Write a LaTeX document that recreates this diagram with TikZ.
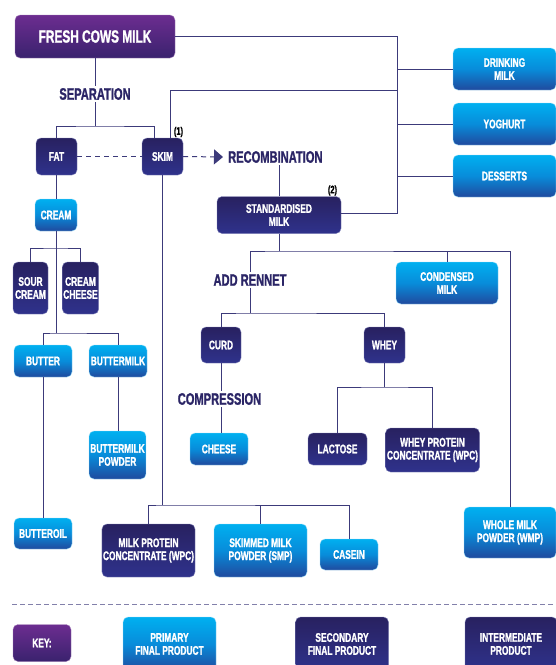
\documentclass[tikz,border=0pt]{standalone}
\usepackage{fontspec}
\newfontfamily\cf{Liberation Sans}[FakeStretch=0.67, BoldFeatures={FakeBold=1.2}]
\usetikzlibrary{arrows.meta}
\definecolor{pTop}{RGB}{0,176,240}
\definecolor{pMid}{RGB}{8,140,218}
\definecolor{pBot}{RGB}{32,74,158}
\definecolor{dTop}{RGB}{40,33,96}
\definecolor{dBot}{RGB}{47,50,140}
\definecolor{uTop}{RGB}{108,45,144}
\definecolor{uBot}{RGB}{58,34,110}
\definecolor{lc}{RGB}{60,58,122}
\definecolor{lab}{RGB}{43,37,102}
\definecolor{kd}{RGB}{130,128,170}
\tikzset{
  box/.style={rounded corners=5pt, align=center, text=white, inner sep=1pt,
    font=\cf\bfseries\fontsize{12.5}{13}\selectfont},
  prim/.style={box, top color=pTop, bottom color=pBot, middle color=pMid, draw=pTop!40!white, line width=0.4pt},
  dark/.style={box, top color=dTop, bottom color=dBot, draw=dBot!60!white, line width=0.4pt},
  purp/.style={box, top color=uTop, bottom color=uBot, draw=uTop!60!white, line width=0.4pt},
  lbl/.style={font=\cf\bfseries\fontsize{16.6}{18}\selectfont, text=lab, inner sep=2pt},
  note/.style={font=\cf\bfseries\fontsize{11}{12}\selectfont, text=black, inner sep=0pt},
  ln/.style={draw=lc, line width=1pt},
  dl/.style={draw=lc, line width=1pt, dash pattern=on 5pt off 4pt},
  kline/.style={draw=kd, line width=1pt, dash pattern=on 5pt off 3pt},
}
\begin{document}
\begin{tikzpicture}[x=1pt,y=-1pt]
\clip (0,0) rectangle (556,665);
\fill[white] (0,0) rectangle (556,665);
% nodes
\node[purp, minimum width=160pt, minimum height=43pt, font=\cf\bfseries\fontsize{17.7}{19}\selectfont] (fresh) at (95,36.5) {FRESH COWS MILK};
\node[prim, minimum width=103pt, minimum height=42pt] (drink) at (504.5,69) {DRINKING\\MILK};
\node[prim, minimum width=103pt, minimum height=42pt] (yog) at (504.5,124) {YOGHURT};
\node[prim, minimum width=103pt, minimum height=42pt] (dess) at (504.5,176) {DESSERTS};
\node[lbl] (sep) at (95,94) {SEPARATION};
\node[dark, minimum width=41pt, minimum height=37pt] (fat) at (56.5,156.5) {FAT};
\node[dark, minimum width=41pt, minimum height=37pt] (skim) at (162.5,156.5) {SKIM};
\node[note] (n1) at (178.5,132) {(1)};
\node[lbl, anchor=west] (recomb) at (226,157) {RECOMBINATION};
\node[dark, minimum width=124pt, minimum height=37pt] (std) at (279,215) {STANDARDISED\\MILK};
\node[note] (n2) at (332.5,190.5) {(2)};
\node[prim, minimum width=42pt, minimum height=32pt] (cream) at (56,215) {CREAM};
\node[dark, minimum width=35pt, minimum height=52pt] (sour) at (30.5,288) {SOUR\\CREAM};
\node[dark, minimum width=35pt, minimum height=52pt] (cchz) at (80.5,288) {CREAM\\CHEESE};
\node[prim, minimum width=58pt, minimum height=32pt] (butter) at (43,361) {BUTTER};
\node[prim, minimum width=58pt, minimum height=32pt] (bmilk) at (118,361) {BUTTERMILK};
\node[prim, minimum width=57pt, minimum height=48pt] (bmpow) at (117.5,455) {BUTTERMILK\\POWDER};
\node[prim, minimum width=58pt, minimum height=31pt] (boil) at (43,533.5) {BUTTEROIL};
\node[lbl] (addr) at (250,280) {ADD RENNET};
\node[prim, minimum width=102pt, minimum height=42pt] (cond) at (447,283) {CONDENSED\\MILK};
\node[dark, minimum width=40pt, minimum height=36pt] (curd) at (221,345) {CURD};
\node[dark, minimum width=41pt, minimum height=36pt] (whey) at (384.5,345) {WHEY};
\node[lbl] (comp) at (219.5,399) {COMPRESSION};
\node[prim, minimum width=58pt, minimum height=32pt] (cheese) at (219,449) {CHEESE};
\node[dark, minimum width=59pt, minimum height=32pt] (lact) at (337.5,449) {LACTOSE};
\node[dark, minimum width=94pt, minimum height=44pt] (wpc) at (432.5,450) {WHEY PROTEIN\\CONCENTRATE (WPC)};
\node[dark, minimum width=93pt, minimum height=53pt] (mpc) at (148.5,550.5) {MILK PROTEIN\\CONCENTRATE (WPC)};
\node[prim, minimum width=93pt, minimum height=53pt] (smp) at (260.5,550.5) {SKIMMED MILK\\POWDER (SMP)};
\node[prim, minimum width=58pt, minimum height=31pt] (casein) at (349,554.5) {CASEIN};
\node[prim, minimum width=92pt, minimum height=51pt] (wmp) at (510,532.5) {WHOLE MILK\\POWDER (WMP)};
% key
\coordinate (kl) at (12,604);
\coordinate (kr) at (556,604);
\draw[kline] (kl) -- (kr);
\node[purp, minimum width=58pt, minimum height=37pt] (key) at (42,643) {KEY:};
\node[prim, minimum width=93pt, minimum height=54pt] (kprim) at (169.5,644) {PRIMARY\\FINAL PRODUCT};
\node[dark, minimum width=93pt, minimum height=54pt] (ksec) at (342,644) {SECONDARY\\FINAL PRODUCT};
\node[dark, minimum width=92pt, minimum height=54pt] (kint) at (511,644) {INTERMEDIATE\\PRODUCT};
% connectors
\coordinate (j1) at (95,126);
\draw[ln] (fresh.south) -- (sep.north);
\draw[ln] (sep.south) -- (j1);
\draw[ln] (fat.north) |- (j1) -| ([xshift=-8.5pt]skim.north);
\coordinate (b90) at (397,90);
\coordinate (bbot) at (397,213);
\draw[ln] (fresh.east) -| (bbot) -- (bbot -| std.east);
\draw[ln] ([xshift=7.5pt]skim.north) |- (b90);
\draw[ln] (drink.west) -- (drink.west -| bbot);
\draw[ln] (yog.west) -- (yog.west -| bbot);
\draw[ln] (dess.west) -- (dess.west -| bbot);
\draw[dl] (fat.east) -- (skim.west);
\draw[dl, -{Triangle[length=9pt,width=15pt]}] (skim.east) -- ([xshift=-3pt]recomb.west);
\draw[ln] (recomb.south -| std.north) -- (std.north);
% cream
\coordinate (c1) at (56,248);
\coordinate (c2) at (56,333);
\draw[ln] (fat.south) -- (fat.south |- cream.north);
\draw[ln] (cream.south) -- (c2);
\draw[ln] (sour.north) |- (c1) -| (cchz.north);
\draw[ln] (butter.north) |- (c2) -| (bmilk.north);
\draw[ln] (butter.south) -- (boil.north);
\draw[ln] (bmilk.south) -- (bmilk.south |- bmpow.north);
% skim bus
\coordinate (s1) at (163,505);
\draw[ln] (skim.south) -- (skim.south |- s1);
\draw[ln] (mpc.north) |- (s1) -| (casein.north);
\draw[ln] (smp.north) -- (smp.north |- s1);
% standardised
\coordinate (r1) at (279,251);
\draw[ln] (std.south) -- (r1);
\draw[ln] (addr.north) |- (r1) -| (wmp.north);
\draw[ln] (cond.north) -- (cond.north |- r1);
\coordinate (r2) at (250,313);
\draw[ln] (addr.south) -- (r2);
\draw[ln] (curd.north) |- (r2) -| (whey.north);
\draw[ln] (curd.south) -- (curd.south |- comp.north);
\draw[ln] (curd.south |- comp.south) -- (curd.south |- cheese.north);
\coordinate (w1) at (384.5,387);
\draw[ln] (whey.south) -- (w1);
\draw[ln] (lact.north) |- (w1) -| (wpc.north);
\end{tikzpicture}
\end{document}
